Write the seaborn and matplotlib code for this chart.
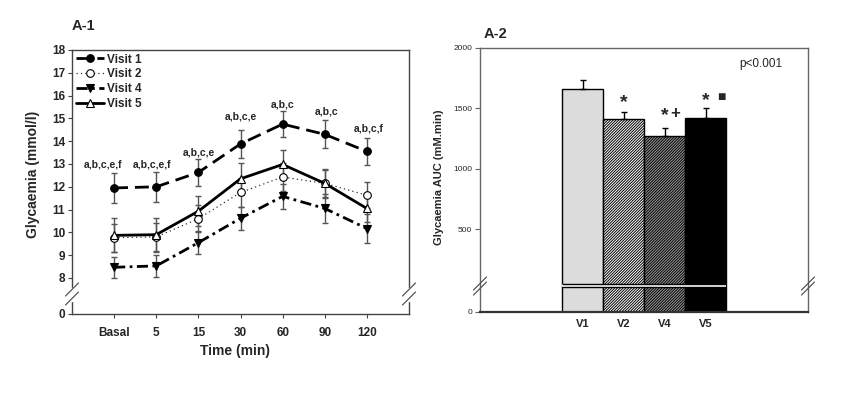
"""Glycaemia curves per visit (A-1) and glycaemia AUC per visit (A-2)."""

import matplotlib

matplotlib.use("Agg")

import matplotlib.pyplot as plt
import numpy as np
import seaborn as sns
from matplotlib.patches import Rectangle

# ---- values ----
times = ["Basal", "5", "15", "30", "60", "90", "120"]

visit1 = [11.95, 12.0, 12.63, 13.88, 14.75, 14.3, 13.55]
visit1_err = [0.67, 0.67, 0.6, 0.62, 0.57, 0.62, 0.61]
visit2 = [9.77, 9.8, 10.6, 11.75, 12.43, 12.15, 11.63]
visit2_err = [0.62, 0.6, 0.6, 0.65, 0.6, 0.6, 0.57]
visit4 = [8.47, 8.53, 9.55, 10.62, 11.58, 11.05, 10.17]
visit4_err = [0.45, 0.48, 0.5, 0.5, 0.55, 0.65, 0.65]
visit5 = [9.87, 9.9, 10.93, 12.35, 12.98, 12.15, 11.05]
visit5_err = [0.75, 0.75, 0.65, 0.7, 0.63, 0.65, 0.6]

sig_labels = ["a,b,c,e,f", "a,b,c,e,f", "a,b,c,e", "a,b,c,e", "a,b,c", "a,b,c", "a,b,c,f"]
sig_x = [-0.27, 0.9, 2.0, 3.0, 4.0, 5.05, 6.05]
sig_y = [12.96, 12.96, 13.5, 15.1, 15.63, 15.3, 14.57]

auc_visits = ["V1", "V2", "V4", "V5"]
auc_mean = [1663, 1409, 1271, 1420]
auc_err = [72, 63, 64, 80]

FIG_W, FIG_H = 855, 396


def squeeze_below(brk, factor):
    """Piecewise-linear scale: identity above brk, rescaled by factor below."""
    def fwd(v):
        v = np.asarray(v, dtype=float)
        return np.where(v >= brk, v, brk - (brk - v) * factor)

    def inv(u):
        u = np.asarray(u, dtype=float)
        return np.where(u >= brk, u, brk - (brk - u) / factor)

    return fwd, inv


def break_marks(ax, xfrac, yfrac, sep, cut_spine):
    box = ax.get_position()
    w = box.width * FIG_W
    h = box.height * FIG_H
    if cut_spine:
        ax.plot([xfrac, xfrac], [yfrac - (sep / 2 + 1) / h, yfrac + (sep / 2 + 1) / h],
                transform=ax.transAxes, clip_on=False, color="white", lw=2.5, zorder=6)
    for off in (-sep / 2, sep / 2):
        ax.plot([xfrac - 6.5 / w, xfrac + 6.5 / w],
                [yfrac + (off - 6.5) / h, yfrac + (off + 6.5) / h],
                transform=ax.transAxes, clip_on=False, color="#555555", lw=0.9, zorder=7)


sns.set_style("ticks")
plt.rcParams["font.family"] = ["Liberation Sans", "DejaVu Sans"]
plt.rcParams["hatch.linewidth"] = 0.7

fig = plt.figure(figsize=(FIG_W / 100, FIG_H / 100), dpi=100)

# ---------------- A-1 ----------------
ax1 = fig.add_axes([72 / FIG_W, 1 - 314 / FIG_H, 337 / FIG_W, 264 / FIG_H])
pos = np.arange(len(times))

series = [
    ("Visit 1", visit1, visit1_err, dict(marker="o", mfc="black", lw=2.0, ls=(0, (5, 2.5)))),
    ("Visit 2", visit2, visit2_err, dict(marker="o", mfc="white", lw=0.9, ls=(0, (1, 2.5)), color="#333333")),
    ("Visit 4", visit4, visit4_err, dict(marker="v", mfc="black", lw=2.0, ls=(0, (4, 1.6, 1, 1.6)))),
    ("Visit 5", visit5, visit5_err, dict(marker="^", mfc="white", lw=2.0, ls="-")),
]

for name, vals, err, st in series:
    ax1.errorbar(pos, vals, yerr=err, fmt="none", ecolor="#555555", elinewidth=1.0,
                 capsize=2.5, capthick=1.0, zorder=1.5)
for name, vals, err, st in series:
    color = st.pop("color", "black")
    sns.lineplot(x=pos, y=vals, ax=ax1, label=name, color=color, linewidth=st["lw"],
                 linestyle=st["ls"], marker=st["marker"], markersize=5.5,
                 markerfacecolor=st["mfc"], markeredgecolor="black", markeredgewidth=0.8,
                 zorder=3)

for lab, x, y in zip(sig_labels, sig_x, sig_y):
    ax1.text(x, y, lab, ha="center", va="center", fontsize=7.5, fontweight="bold")

fwd, inv = squeeze_below(8, 0.1974)
ax1.set_yscale("function", functions=(fwd, inv))
ax1.set_ylim(0, 18)
ax1.set_xlim(-1, 7)
ax1.set_yticks([0] + list(range(8, 19)))
ax1.set_yticklabels(["0"] + [str(v) for v in range(8, 19)])
ax1.yaxis.set_minor_locator(matplotlib.ticker.NullLocator())
ax1.set_xticks(pos)
ax1.set_xticklabels(times)
ax1.tick_params(axis="both", labelsize=8.5, length=3, width=0.8, color="#444444", pad=2)
ax1.tick_params(axis="x", pad=6)
for t in ax1.get_xticklabels() + ax1.get_yticklabels():
    t.set_fontweight("bold")
for sp in ax1.spines.values():
    sp.set_color("#444444")
    sp.set_linewidth(1.0)

ax1.set_xlabel("Time (min)", fontsize=10, fontweight="bold")
ax1.set_ylabel("Glycaemia (mmol/l)", fontsize=10, fontweight="bold")
ax1.xaxis.set_label_coords(0.484, -0.115)
ax1.yaxis.set_label_coords(-0.095, 0.53)
ax1.text(0.0, 1.09, "A-1", transform=ax1.transAxes, ha="left", va="center",
         fontsize=10.5, fontweight="bold")

ax1.legend(loc="upper left", bbox_to_anchor=(0.0, 1.0), frameon=False,
           prop={"size": 8.5, "weight": "bold"}, handlelength=2.4,
           handletextpad=0.25, labelspacing=0.25, borderaxespad=0.1, borderpad=0.2,
           numpoints=1)

break_marks(ax1, 0.0, (314 - 294) / 264, 9, True)
break_marks(ax1, 1.0, (314 - 294) / 264, 9, True)

# ---------------- A-2 ----------------
ax2 = fig.add_axes([480 / FIG_W, 1 - 312 / FIG_H, 328 / FIG_W, 264 / FIG_H])
sns.barplot(x=auc_visits, y=auc_mean, ax=ax2, width=1.0, errorbar=None, color="white")

faces = ["#dcdcdc", "white", "#9a9a9a", "black"]
hatches = [None, "/" * 12, "/" * 12, None]
for bar, fc, hat in zip(ax2.patches, faces, hatches):
    bar.set_facecolor(fc)
    bar.set_edgecolor("black")
    bar.set_linewidth(1.0)
    if hat:
        bar.set_hatch(hat)

ax2.errorbar(np.arange(len(auc_visits)), auc_mean, yerr=[np.zeros(len(auc_err)), auc_err],
             fmt="none", ecolor="black", elinewidth=1.0, capsize=2.5, capthick=1.0, zorder=4)

fwd2, inv2 = squeeze_below(40, 5.695)
ax2.set_yscale("function", functions=(fwd2, inv2))
ax2.set_ylim(0, 2000)
ax2.set_xlim(-2.5, 5.5)
ax2.set_yticks([0, 500, 1000, 1500, 2000])
ax2.set_yticklabels(["0", "500", "1000", "1500", "2000"])
ax2.yaxis.set_minor_locator(matplotlib.ticker.NullLocator())

# white cut through the bars at the axis break
n = len(auc_visits)
ax2.add_patch(Rectangle((-0.5, 36), n, 8, facecolor="white", edgecolor="none", zorder=5))
ax2.hlines([36, 44], -0.5, n - 0.5, color="black", lw=1.0, zorder=6)

ax2.text(1, 1550, "*", ha="center", va="center", fontsize=14, fontweight="bold")
ax2.text(2.0, 1442, "*", ha="center", va="center", fontsize=14, fontweight="bold")
ax2.text(2.27, 1461, "+", ha="center", va="center", fontsize=12, fontweight="bold")
ax2.text(3.0, 1568, "*", ha="center", va="center", fontsize=14, fontweight="bold")
ax2.text(3.38, 1597, "\u25a0", ha="center", va="center", fontsize=10)
ax2.text(4.36, 1867, "p<0.001", ha="center", va="center", fontsize=8.5)

ax2.tick_params(axis="y", labelsize=6, length=3.5, width=0.8, color="#666666", pad=2)
ax2.tick_params(axis="x", labelsize=8, length=0, pad=5)
for t in ax2.get_xticklabels():
    t.set_fontweight("bold")
for sp in ax2.spines.values():
    sp.set_color("#666666")
    sp.set_linewidth(1.0)
ax2.spines["bottom"].set_color("#333333")
ax2.spines["bottom"].set_linewidth(1.6)

ax2.set_ylabel("Glycaemia AUC (mM.min)", fontsize=8, fontweight="bold")
ax2.yaxis.set_label_coords(-0.11, 0.51)
ax2.text(0.01, 1.053, "A-2", transform=ax2.transAxes, ha="left", va="center",
         fontsize=10.5, fontweight="bold")

break_marks(ax2, 0.0, (312 - 286) / 264, 5, False)
break_marks(ax2, 1.0, (312 - 286) / 264, 5, False)

fig.savefig("out.png", dpi=100)
